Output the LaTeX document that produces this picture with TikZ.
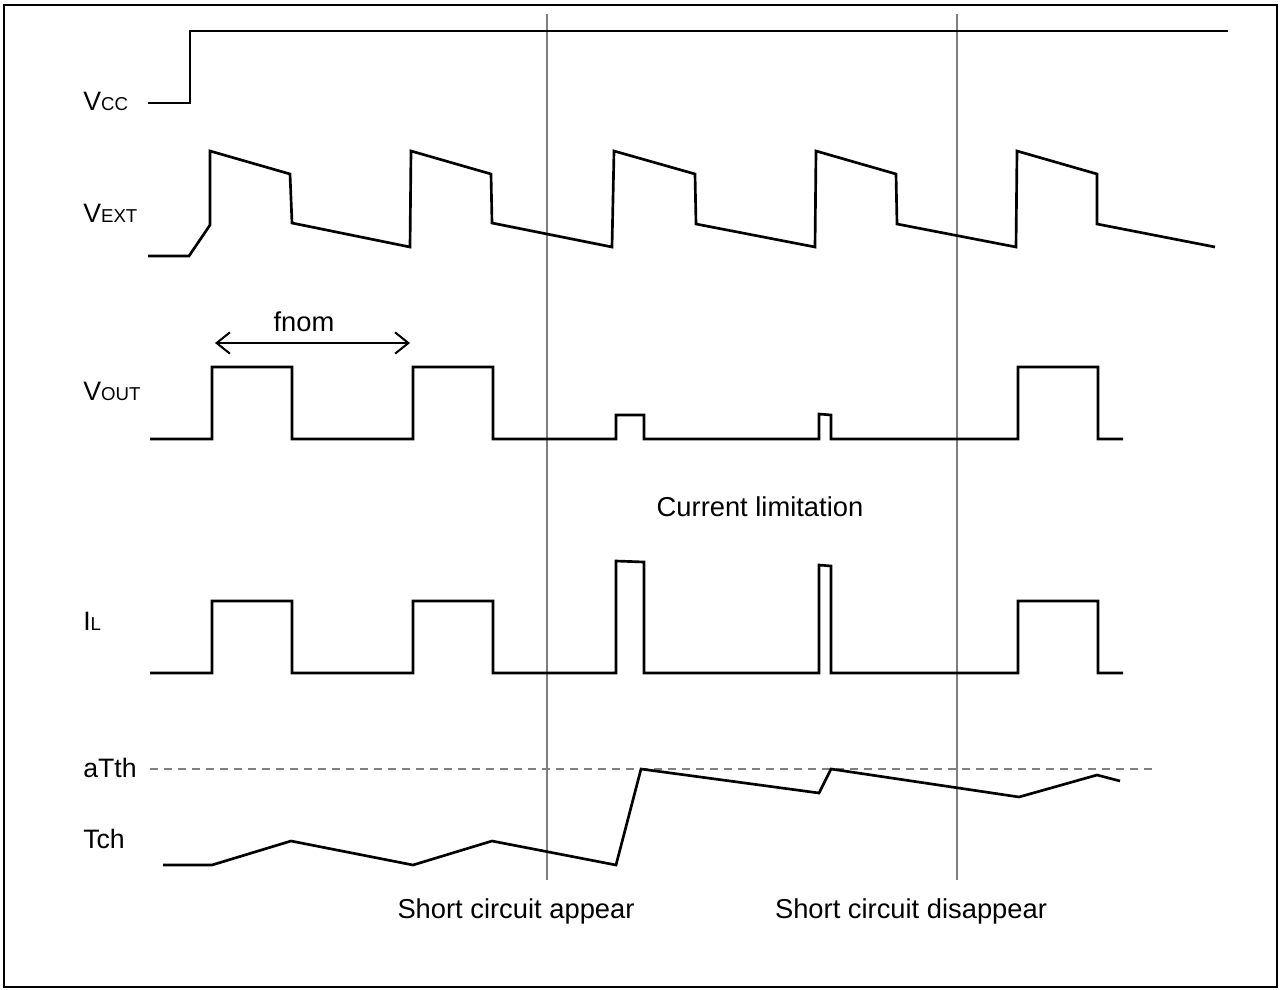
\documentclass[tikz,border=0pt]{standalone}
\usepackage{fontspec}
\setmainfont{Liberation Sans}
\usetikzlibrary{arrows.meta}
\begin{document}
\begin{tikzpicture}[x=0.75pt,y=-0.75pt,
  wave/.style={line width=2pt, line join=miter},
  marker/.style={draw=black!50, line width=1.8pt},
  thresh/.style={draw=black!50, line width=1.3pt, dash pattern=on 6pt off 4.5pt},
  lbl/.style={anchor=base west, inner sep=0pt, font=\fontsize{20}{24}\selectfont},
  txt/.style={anchor=base, inner sep=0pt, font=\fontsize{20.5}{24}\selectfont}]
\newcommand{\subsc}[1]{{\fontsize{14}{16}\selectfont #1}}
\useasboundingbox (0,0) rectangle (1280,989);
\draw[line width=1.5pt] (4,5) rectangle (1277,987);

% labels
\node[lbl] (lvcc) at (83,110) {V\subsc{CC}};
\node[lbl] (lvext) at (83,222) {V\subsc{EXT}};
\node[lbl] (lvout) at (83,400) {V\subsc{OUT}};
\node[lbl] (lil) at (83,630) {I\subsc{L}};
\node[lbl] (latth) at (83,777) {aTth};
\node[lbl] (ltch) at (83,848) {Tch};

% event markers
\coordinate (sa1) at (547,14); \coordinate (sa2) at (547,880);
\coordinate (sd1) at (957,14); \coordinate (sd2) at (957,880);
\draw[marker] (sa1) -- (sa2);
\draw[marker] (sd1) -- (sd2);

% threshold
\coordinate (th1) at (150,769); \coordinate (th2) at (1153,769);
\draw[thresh] (th1) -- (th2);

% VCC
\draw[wave] (148,103) -- (190,103) -- (190,31) -- (1228,31);

% VEXT
\draw[wave] (148,256) -- (189,256) -- (210,225) -- (210,151) -- (290,174) -- (292,223)
  -- (410,247) -- (411,151) -- (491,174) -- (492,223)
  -- (612,247) -- (614,151) -- (695,174) -- (696,224)
  -- (815,247) -- (816,151) -- (896,174) -- (897,224)
  -- (1016,247) -- (1017,151) -- (1097,174) -- (1097,224)
  -- (1215,247);

% fnom
\coordinate (f1) at (215,343); \coordinate (f2) at (410,343);
\draw[line width=1.5pt, {Straight Barb[length=10pt,width=16pt]}-{Straight Barb[length=10pt,width=16pt]}] (f1) -- (f2);
\node[txt] (fnom) at (304,331) {fnom};

% VOUT
\draw[wave] (150,439) -- (212,439) -- (212,367) -- (292,367) -- (292,439)
  -- (413,439) -- (413,367) -- (493,367) -- (493,439)
  -- (616,439) -- (616,415) -- (644,415) -- (644,439)
  -- (819,439) -- (819,414) -- (831,415) -- (831,439)
  -- (1018,439) -- (1018,367) -- (1098,367) -- (1098,439) -- (1123,439);

\node[txt] (climit) at (760,516) {Current limitation};

% IL
\draw[wave] (150,673) -- (212,673) -- (212,601) -- (292,601) -- (292,673)
  -- (413,673) -- (413,601) -- (493,601) -- (493,673)
  -- (616,673) -- (616,561) -- (644,562) -- (644,673)
  -- (819,673) -- (819,565) -- (831,566) -- (831,673)
  -- (1018,673) -- (1018,601) -- (1098,601) -- (1098,673) -- (1123,673);

% Tch
\draw[wave] (163,865) -- (212,865) -- (291,841) -- (413,865) -- (492,841) -- (616,865)
  -- (641,769) -- (819,793) -- (831,769) -- (1019,797) -- (1097,775) -- (1120,781);

\node[txt] (sca) at (516,918) {Short circuit appear};
\node[txt] (scd) at (911,918) {Short circuit disappear};
\end{tikzpicture}
\end{document}
